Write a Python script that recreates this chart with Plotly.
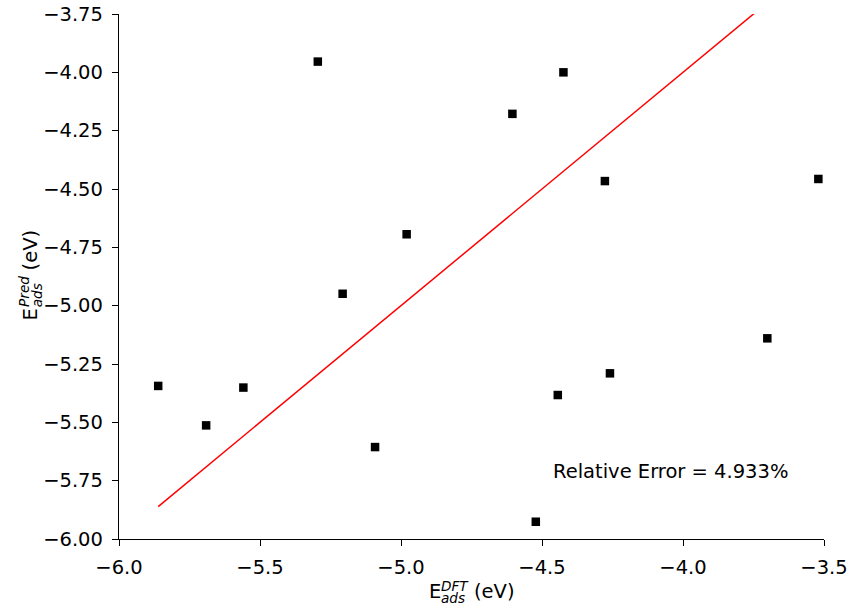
import plotly.graph_objects as go

# Data
e_dft = [-5.861, -5.691, -5.559, -5.295, -5.207, -5.092, -4.980, -4.605,
         -4.522, -4.444, -4.424, -4.277, -4.259, -3.701, -3.520]
e_pred = [-5.344, -5.513, -5.351, -3.954, -4.949, -5.606, -4.694, -4.178,
          -5.926, -5.383, -4.000, -4.466, -5.290, -5.140, -4.457]
relative_error_text = "Relative Error = 4.933%"
x_ticks = [-6.0, -5.5, -5.0, -4.5, -4.0, -3.5]
y_ticks = [-6.00, -5.75, -5.50, -5.25, -5.00, -4.75, -4.50, -4.25, -4.00, -3.75]

FONT = "DejaVu Sans"
FS = 19.5
FS_SMALL = 13.6

W, H = 850, 610
# plot area in window pixels
L, R, T, B = 119, 824, 14, 539

line_x = [min(e_dft), max(e_dft)]

fig = go.Figure()
fig.add_trace(go.Scatter(x=line_x, y=line_x, mode="lines",
                         line=dict(color="red", width=1.5), showlegend=False))
fig.add_trace(go.Scatter(x=e_dft, y=e_pred, mode="markers",
                         marker=dict(symbol="square", size=8.5, color="black",
                                     line=dict(width=0)),
                         showlegend=False))

fig.add_annotation(x=-4.468, y=-5.71, xref="x", yref="y", text=relative_error_text,
                   showarrow=False, xanchor="left", yanchor="middle",
                   font=dict(family=FONT, size=FS, color="black"))


def px2paper(px, py):
    return (px - L) / (R - L), (B - py) / (B - T)


def add_piece(text, px, py, size, angle=0):
    xp, yp = px2paper(px, py)
    fig.add_annotation(x=xp, y=yp, xref="paper", yref="paper", text=text,
                       showarrow=False, xanchor="center", yanchor="middle",
                       textangle=angle,
                       font=dict(family=FONT, size=size, color="black"))


# x-axis title: E_ads^DFT (eV)  (sub/superscript stacked like mathtext)
add_piece("E", 434.6, 591.5, FS)
add_piece("<i>ads</i>", 453.3, 598.3, FS_SMALL)
add_piece("<i>DFT</i>", 455.0, 586.0, FS_SMALL)
add_piece("(eV)", 494.7, 591.5, FS)

# y-axis title: E_ads^Pred (eV), rotated
t0 = 320.0
xs = 3.0
add_piece("E", 27.3 + xs, t0 - 5.9, FS, -90)
add_piece("<i>ads</i>", 34.0 + xs, t0 - 24.7, FS_SMALL, -90)
add_piece("<i>Pred</i>", 21.0 + xs, t0 - 28.1, FS_SMALL, -90)
add_piece("(eV)", 27.3 + xs, t0 - 69.9, FS, -90)

axis_common = dict(showgrid=False, zeroline=False, showline=True, linecolor="black",
                   linewidth=1.3, ticks="outside", ticklen=6, tickwidth=1.3,
                   tickcolor="black", tickfont=dict(family=FONT, size=FS, color="black"),
                   mirror=False, automargin=False, ticklabeloverflow="allow")

fig.update_xaxes(range=[-6.0, -3.5], tickvals=x_ticks,
                 ticktext=[f"{v:.1f}".replace("-", "\u2212") for v in x_ticks],
                 ticklabelstandoff=4, **axis_common)
fig.update_yaxes(range=[-6.0, -3.75], tickvals=y_ticks,
                 ticktext=[f"{v:.2f}".replace("-", "\u2212") for v in y_ticks],
                 ticklabelstandoff=5, **axis_common)

fig.update_layout(width=W, height=H, plot_bgcolor="white", paper_bgcolor="white",
                  margin=dict(l=L, r=W - R, t=T, b=H - B),
                  font=dict(family=FONT, size=FS, color="black"),
                  hovermode=False)

# remove the default page margin so the 850x610 figure fills the window exactly
fig.write_html("out.html",
               config={"displayModeBar": False},
               post_script="document.body.style.margin='0px';"
                           "document.body.style.overflow='hidden';")
